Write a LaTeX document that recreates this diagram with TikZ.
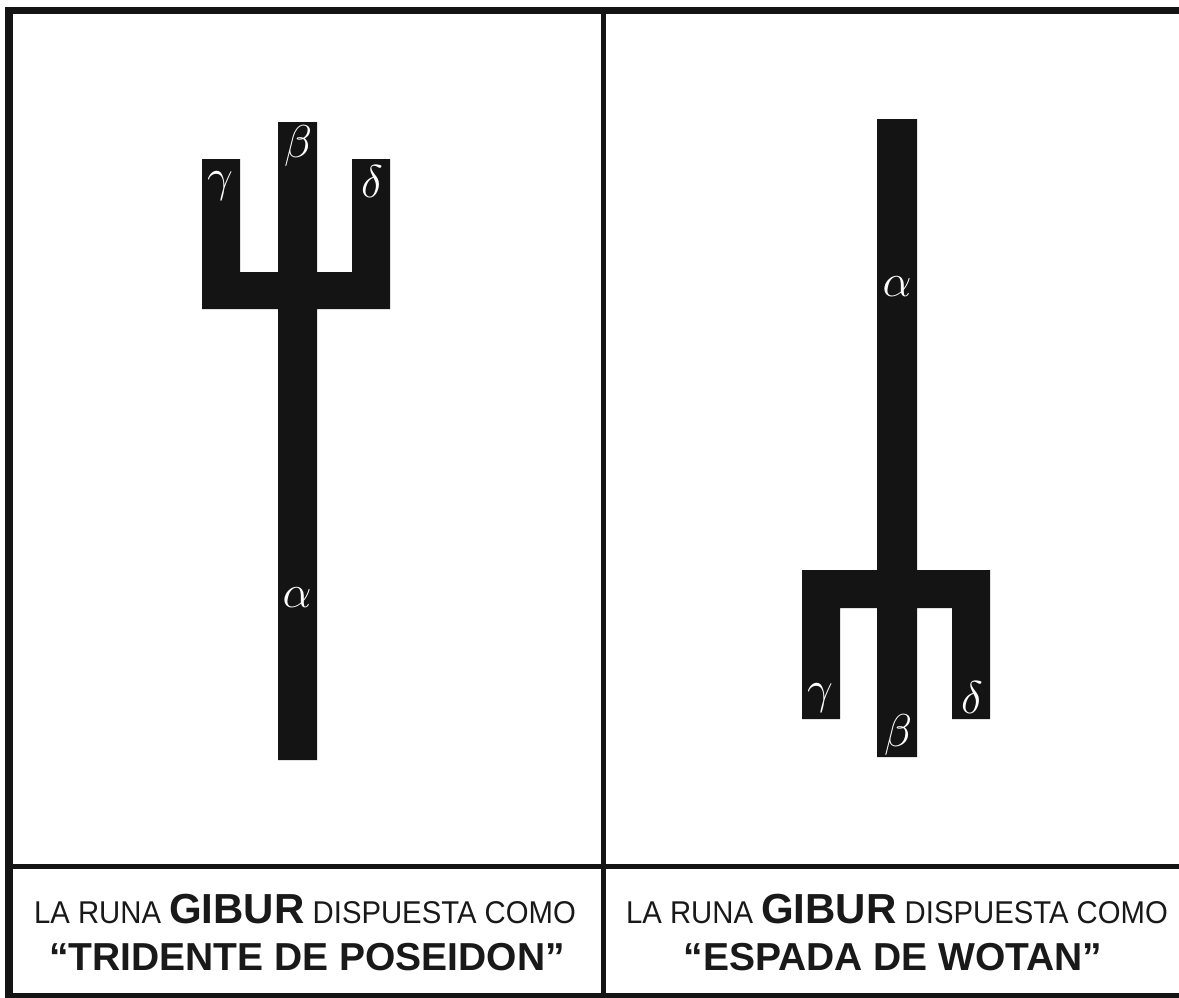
\RequirePackage{fix-cm}
\documentclass[tikz,border=0pt]{standalone}
\usepackage{fontspec}
\setmainfont{Liberation Sans}
\newfontfamily\narrowfont{Liberation Sans}[FakeStretch=0.93]
\begin{document}
\begin{tikzpicture}[x=1pt,y=-1pt,
  frame/.style={line width=#1, draw=black!92, line cap=rect},
  rune/.style={fill=black!92, draw=none},
  greek/.style={text=white, inner sep=0pt, font=\fontsize{46}{46}\selectfont},
  capline/.style={inner sep=0pt, anchor=base, text=black!90},
]
\useasboundingbox (0,0) rectangle (1179,998);
\fill[white] (0,0) rectangle (1179,998);
% frame
\draw[frame=8pt] (9,11) -- (9,998);
\draw[frame=7pt] (9,11) -- (1179,11);
\draw[frame=5pt] (9,995) -- (1179,995);
\draw[frame=5pt] (603,11) -- (603,995);
\draw[frame=5pt] (9,866) -- (1179,866);
% trident (left)
\fill[rune] (202,159) -- (240,159) -- (240,272) -- (278,272) -- (278,122) -- (317,122)
  -- (317,272) -- (352,272) -- (352,159) -- (390,159) -- (390,309) -- (317,309)
  -- (317,760) -- (278,760) -- (278,309) -- (202,309) -- cycle;
\node[greek] (lbeta) at (298,146) {$\beta$};
\node[greek] (lgamma) at (220,186) {$\gamma$};
\node[greek] (ldelta) at (372,182) {$\delta$};
\node[greek] (lalpha) at (297,598) {$\alpha$};
% sword (right)
\fill[rune] (877,119) -- (917,119) -- (917,570) -- (990,570) -- (990,719) -- (952,719)
  -- (952,608) -- (917,608) -- (917,757) -- (877,757) -- (877,608) -- (840,608)
  -- (840,719) -- (802,719) -- (802,570) -- (877,570) -- cycle;
\node[greek] (ralpha) at (897,287) {$\alpha$};
\node[greek] (rgamma) at (820,698) {$\gamma$};
\node[greek] (rdelta) at (972,698) {$\delta$};
\node[greek] (rbeta) at (898,735) {$\beta$};
% captions
\node[capline] (lline1) at (305,923) {{\narrowfont\fontsize{31.5}{32}\selectfont LA RUNA }{\fontsize{42}{42}\selectfont\bfseries GIBUR}{\narrowfont\fontsize{31.5}{32}\selectfont\ DISPUESTA COMO}};
\node[capline] (lline2) at (307,970) {\fontsize{39}{40}\selectfont\bfseries “TRIDENTE DE POSEIDON”};
\node[capline] (rline1) at (897,923) {{\narrowfont\fontsize{31.5}{32}\selectfont LA RUNA }{\fontsize{42}{42}\selectfont\bfseries GIBUR}{\narrowfont\fontsize{31.5}{32}\selectfont\ DISPUESTA COMO}};
\node[capline] (rline2) at (893,970) {\fontsize{39}{40}\selectfont\bfseries “ESPADA DE WOTAN”};
\end{tikzpicture}
\end{document}
